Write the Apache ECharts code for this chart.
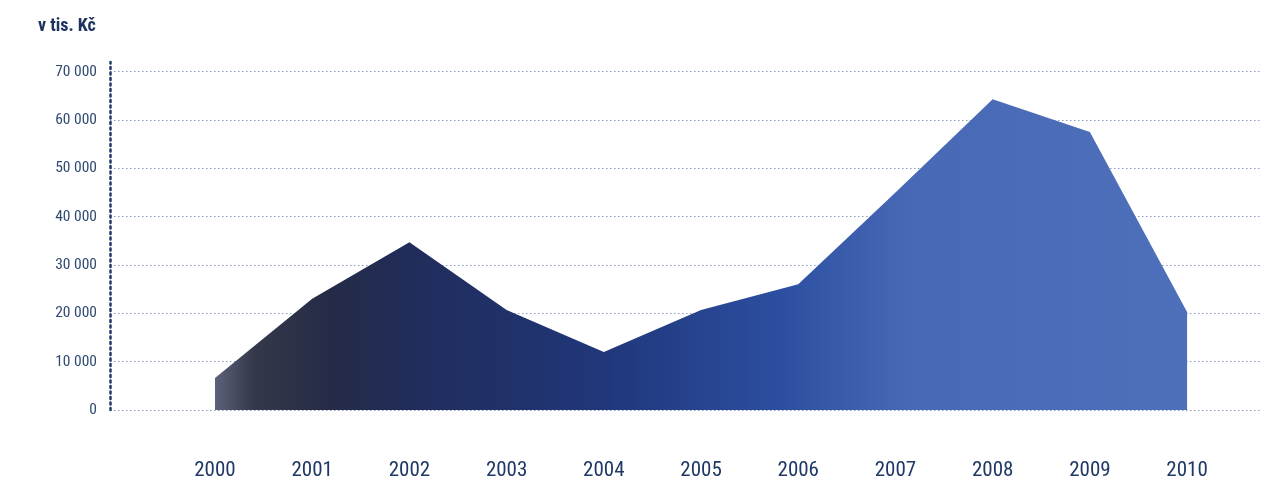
<!DOCTYPE html>
<html>
<head>
<meta charset="utf-8">
<script src="https://cdn.jsdelivr.net/npm/echarts@6/dist/echarts.min.js"></script>
<style>
html,body{margin:0;padding:0;background:#fff;}
#c{width:1271px;height:488px;}
</style>
</head>
<body>
<div id="c"></div>
<script>
var years = [2000, 2001, 2002, 2003, 2004, 2005, 2006, 2007, 2008, 2009, 2010];
var values = [6600, 23000, 34700, 20700, 12000, 20700, 26000, 45000, 64300, 57500, 20300];
var yTicks = [0, 10000, 20000, 30000, 40000, 50000, 60000, 70000];

var chart = echarts.init(document.getElementById('c'));
var fontNarrow = '"Liberation Sans Narrow", "Roboto Condensed", "Liberation Sans", sans-serif';
chart.setOption({
  animation: false,
  title: {
    text: 'v tis. Kč',
    left: 33, top: 12,
    textStyle: {fontFamily: fontNarrow, fontSize: 18, fontWeight: 'bold', color: '#1c3360'}
  },
  grid: {left: 110, right: 11, top: 62, bottom: 78},
  xAxis: {
    type: 'value',
    min: 1998.92, max: 2010.75,
    axisLine: {show: false},
    axisTick: {show: false},
    splitLine: {show: false},
    axisLabel: {
      customValues: years,
      margin: 50,
      fontFamily: fontNarrow, fontSize: 21, color: '#1f3866',
      formatter: function (v) { return String(Math.round(v)); }
    }
  },
  yAxis: {
    type: 'value',
    min: 0, max: 72000, interval: 10000,
    axisLine: {show: true, lineStyle: {color: '#1f3866', width: 2.5, type: [2, 3.5], cap: 'round'}},
    axisTick: {show: false},
    splitLine: {show: true, showMaxLine: false, lineStyle: {color: '#8b9cc2', width: 1, type: [1.5, 2.5]}},
    axisLabel: {
      customValues: yTicks,
      margin: 13,
      fontFamily: fontNarrow, fontSize: 15.5, color: '#2f4a73',
      formatter: function (v) {
        if (v % 10000 !== 0) return '';
        return String(v).replace(/\B(?=(\d{3})+(?!\d))/g, ' ');
      }
    }
  },
  series: [{
    type: 'line',
    data: years.map(function (y, i) { return [y, values[i]]; }),
    symbol: 'none',
    lineStyle: {width: 0},
    areaStyle: {
      opacity: 1,
      color: {
        type: 'linear', x: 0, y: 0, x2: 1, y2: 0,
        colorStops: [
          {offset: 0, color: '#5d6179'},
          {offset: 0.04, color: '#34384a'},
          {offset: 0.12, color: '#252b46'},
          {offset: 0.2, color: '#212c5a'},
          {offset: 0.4, color: '#20377a'},
          {offset: 0.58, color: '#2c4ea0'},
          {offset: 0.72, color: '#486ab6'},
          {offset: 1, color: '#4e70bb'}
        ]
      }
    }
  }]
});
</script>
</body>
</html>
